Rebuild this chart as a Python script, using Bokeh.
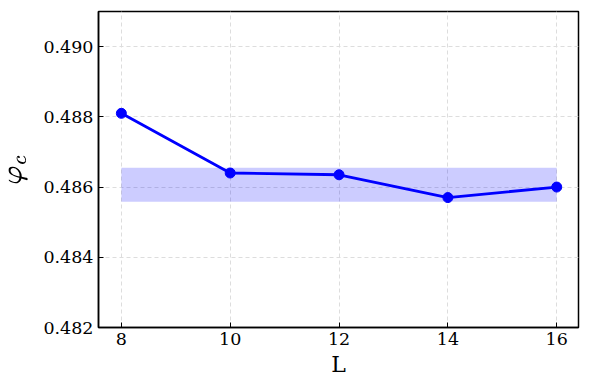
from bokeh.plotting import figure
from bokeh.models import Range1d, FixedTicker, ColumnDataSource, TeX, PrintfTickFormatter
from bokeh.embed import file_html
from bokeh.resources import INLINE

L = [8, 10, 12, 14, 16]
phi_c = [0.48810, 0.48640, 0.48635, 0.48570, 0.48600]
err = [0.00008, 0.00003, 0.00003, 0.00003, 0.00003]
band_low = 0.48558
band_high = 0.48655

p = figure(width=580, height=381, output_backend="svg", toolbar_location=None,
           x_range=Range1d(7.58, 16.4), y_range=Range1d(0.482, 0.491),
           min_border_left=98, min_border_right=2, min_border_top=11, min_border_bottom=54)

p.varea(x=[L[0], L[-1]], y1=[band_low, band_low], y2=[band_high, band_high],
        fill_color="blue", fill_alpha=0.2)

src = ColumnDataSource(dict(x=L, y=phi_c, lo=[v - e for v, e in zip(phi_c, err)],
                            hi=[v + e for v, e in zip(phi_c, err)]))
p.line("x", "y", source=src, line_color="blue", line_width=2.8)
p.segment(x0="x", y0="lo", x1="x", y1="hi", source=src, line_color="blue", line_width=2)
p.scatter("x", "y", source=src, size=10, color="blue")

for ax in (p.xaxis[0], p.yaxis[0]):
    ax.major_tick_in = 5
    ax.major_tick_out = 0
    ax.minor_tick_line_color = None
    ax.axis_line_color = "black"
    ax.axis_line_width = 1.5
    ax.major_tick_line_width = 1
    ax.major_label_text_font = "DejaVu Serif"
    ax.major_label_text_font_size = "17.5px"
    ax.major_label_text_color = "black"
    ax.axis_label_text_font = "DejaVu Serif"
    ax.axis_label_text_font_style = "normal"
    ax.axis_label_text_color = "black"

p.xaxis.ticker = FixedTicker(ticks=L)
p.yaxis.ticker = FixedTicker(ticks=[0.482, 0.484, 0.486, 0.488, 0.490])
p.yaxis.formatter = PrintfTickFormatter(format="%.3f")
p.xaxis.axis_label = "L"
p.xaxis.axis_label_text_font_size = "22px"
p.xaxis.axis_label_standoff = 4
p.yaxis.axis_label = TeX(text=r"\varphi_c")
p.yaxis.axis_label_text_font_size = "24px"
p.yaxis.axis_label_standoff = 4
p.xaxis.major_label_standoff = 5
p.yaxis.major_label_standoff = 5

p.grid.grid_line_color = "#dddddd"
p.grid.grid_line_dash = "4 3"
p.grid.grid_line_width = 1
p.outline_line_color = "black"
p.outline_line_width = 1.5
p.outline_line_alpha = 1

open("out.html", "w").write(file_html(p, INLINE))
